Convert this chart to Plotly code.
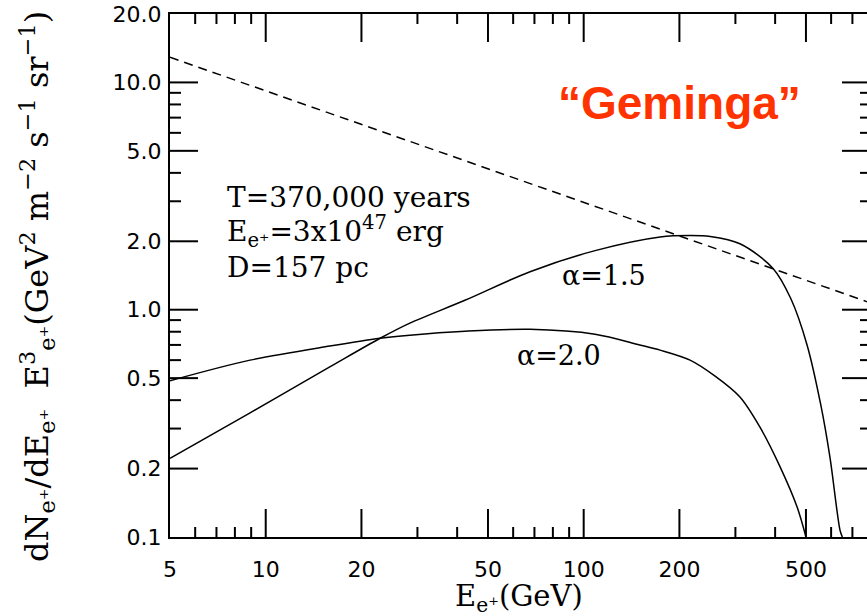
import math
import plotly.graph_objects as go

# Positron spectrum from a Geminga-like pulsar, E^3-weighted
energy_a15 = [5, 8.93, 15.9, 22.9, 28.4, 42.3, 67.8, 108.6, 174, 216, 250, 310, 394, 448, 504, 557, 595, 640, 651]
flux_a15 = [0.222, 0.352, 0.56, 0.749, 0.873, 1.10, 1.47, 1.82, 2.09, 2.12, 2.10, 1.95, 1.52, 1.12, 0.70, 0.38, 0.224, 0.107, 0.1]

energy_a20 = [5, 8.93, 15.9, 22.9, 28.4, 42.3, 67.8, 108.6, 150, 174, 216, 259, 310, 358, 415, 469, 500]
flux_a20 = [0.487, 0.60, 0.692, 0.749, 0.773, 0.804, 0.82, 0.78, 0.70, 0.664, 0.60, 0.51, 0.413, 0.305, 0.203, 0.1355, 0.1]

# Background power law (dashed)
energy_bg = [5, 800]
flux_bg = [12.9, 1.07]

x_major = [5, 10, 20, 50, 100, 200, 500]
x_major_text = ["5", "10", "20", "50", "100", "200", "500"]
x_minor = [6, 7, 8, 9, 30, 40, 60, 70, 80, 90, 300, 400, 600, 700]

y_major = [0.1, 0.2, 0.5, 1, 2, 5, 10, 20]
y_major_text = ["0.1", "0.2", "0.5", "1.0", "2.0", "5.0", "10.0", "20.0"]
y_minor = [0.3, 0.4, 0.6, 0.7, 0.8, 0.9, 3, 4, 6, 7, 8, 9]

W, H = 867, 616
L, R, T, B = 170, 0, 14, 79
plot_w = W - L - R
plot_h = H - T - B

x_lo, x_hi = 5, 778
y_lo, y_hi = 0.1, 20
px_per_dec_x = plot_w / math.log10(x_hi / x_lo)
px_per_dec_y = plot_h / math.log10(y_hi / y_lo)


def px(xp):
    return (xp - L) / plot_w


def py(yp):
    return (H - B - yp) / plot_h


fig = go.Figure()
curve = dict(color="black", width=1.5, shape="spline", smoothing=0.9)
fig.add_trace(go.Scatter(x=energy_a15, y=flux_a15, mode="lines", line=curve, hoverinfo="skip", showlegend=False))
fig.add_trace(go.Scatter(x=energy_a20, y=flux_a20, mode="lines", line=curve, hoverinfo="skip", showlegend=False))
fig.add_trace(go.Scatter(x=energy_bg, y=flux_bg, mode="lines", line=dict(color="black", width=1.5, dash="9px,6px"),
                         hoverinfo="skip", showlegend=False))

# Inward tick marks on all four sides, lengths given in pixels and mapped onto the log scales.
# The right-hand frame edge sits just past the page, so only the tick stubs show there.
tick_x, tick_y = [], []


def x_ticks(values, length):
    f = 10 ** (length / px_per_dec_y)
    for v in values:
        tick_x.extend([v, v, None, v, v, None])
        tick_y.extend([y_lo, y_lo * f, None, y_hi, y_hi / f, None])


def y_ticks(values, left_len, right_len):
    fl = 10 ** (left_len / px_per_dec_x)
    fr = 10 ** (right_len / px_per_dec_x)
    for v in values:
        tick_x.extend([x_lo, x_lo * fl, None, x_hi, x_hi / fr, None])
        tick_y.extend([v, v, None, v, v, None])


x_ticks(x_major[1:], 28)
x_ticks(x_minor, 10)
y_ticks(y_major[1:-1], 28, 25)
y_ticks(y_minor, 11, 7)
fig.add_trace(go.Scatter(x=tick_x, y=tick_y, mode="lines", line=dict(color="black", width=2),
                         connectgaps=False, hoverinfo="skip", showlegend=False))

tick_font = dict(family="DejaVu Sans", size=22, color="black")
serif = "DejaVu Serif"

fig.update_layout(
    width=W, height=H,
    margin=dict(l=L, r=R, t=T, b=B),
    paper_bgcolor="white", plot_bgcolor="white",
    xaxis=dict(type="log", range=[math.log10(x_lo), math.log10(x_hi)], showgrid=False, zeroline=False,
               showline=True, linecolor="black", linewidth=2, mirror=True, ticks="",
               tickmode="array", tickvals=x_major, ticktext=x_major_text, tickfont=tick_font,
               ticklabelstandoff=12),
    yaxis=dict(type="log", range=[math.log10(y_lo), math.log10(y_hi)], showgrid=False, zeroline=False,
               showline=True, linecolor="black", linewidth=2, mirror=False, ticks="",
               tickmode="array", tickvals=y_major, ticktext=y_major_text, tickfont=tick_font,
               ticklabelstandoff=2),
)

annotations = [
    dict(text="dN<sub>e⁺</sub>/dE<sub>e⁺</sub>  E<sup>3</sup><sub>e⁺</sub>(GeV<sup>2</sup> m<sup>−2</sup> s<sup>−1</sup> sr<sup>−1</sup>)",
         x=px(37), y=py(287), textangle=-90, xanchor="center", yanchor="middle",
         font=dict(family=serif, size=32, color="black")),
    dict(text="E<sub>e⁺</sub>(GeV)", x=px(519), y=py(598), xanchor="center", yanchor="middle",
         font=dict(family=serif, size=29, color="black")),
    dict(text="T=370,000 years", x=px(225), y=py(197), xanchor="left", yanchor="middle",
         font=dict(family=serif, size=28, color="black")),
    dict(text="E<sub>e⁺</sub>=3x10<sup>47</sup> erg", x=px(225), y=py(232), xanchor="left", yanchor="middle",
         font=dict(family=serif, size=28, color="black")),
    dict(text="D=157 pc", x=px(225), y=py(267), xanchor="left", yanchor="middle",
         font=dict(family=serif, size=28, color="black")),
    dict(text="α=1.5", x=px(560), y=py(275), xanchor="left", yanchor="middle",
         font=dict(family=serif, size=27, color="black")),
    dict(text="α=2.0", x=px(515), y=py(355), xanchor="left", yanchor="middle",
         font=dict(family=serif, size=27, color="black")),
    dict(text="<b>“Geminga”</b>", x=px(556), y=py(103), xanchor="left", yanchor="middle",
         font=dict(family="Liberation Sans", size=46, color="#ff3300")),
]
for a in annotations:
    a.update(xref="paper", yref="paper", showarrow=False)
fig.update_layout(annotations=annotations)

fig.write_html("out.html")
